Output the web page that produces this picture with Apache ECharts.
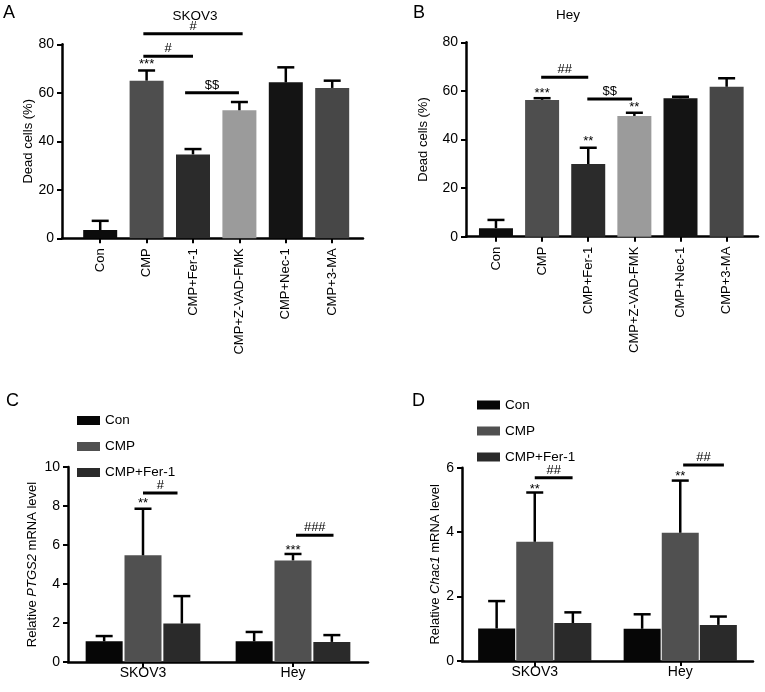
<!DOCTYPE html>
<html><head><meta charset="utf-8">
<script src="https://cdn.jsdelivr.net/npm/echarts/dist/echarts.min.js"></script>
<style>html,body{margin:0;padding:0;background:#fff}#c{width:765px;height:692px}</style>
</head><body><div id="c"></div>
<script>
// ---------- data ----------
const deathCategories = ['Con', 'CMP', 'CMP+Fer-1', 'CMP+Z-VAD-FMK', 'CMP+Nec-1', 'CMP+3-MA'];
const skov3Dead    = [3.4, 65.0, 34.6, 52.8, 64.3, 62.0];
const skov3DeadErr = [3.8, 4.2, 2.2, 3.4, 6.2, 3.0];
const heyDead      = [3.5, 56.3, 29.9, 49.7, 57.0, 61.7];
const heyDeadErr   = [3.4, 0.7, 6.7, 1.3, 0.6, 3.5];
const deadTicks    = [0, 20, 40, 60, 80];

const cellLines  = ['SKOV3', 'Hey'];
const groupNames = ['Con', 'CMP', 'CMP+Fer-1'];
const ptgs2Con = [1.06, 1.06];  const ptgs2ConErr = [0.27, 0.48];
const ptgs2Cmp = [5.47, 5.21];  const ptgs2CmpErr = [2.39, 0.33];
const ptgs2Fer = [1.97, 1.03];  const ptgs2FerErr = [1.41, 0.35];
const ptgs2Ticks = [0, 2, 4, 6, 8, 10];
const chac1Con = [1.01, 1.00];  const chac1ConErr = [0.85, 0.45];
const chac1Cmp = [3.70, 3.98];  const chac1CmpErr = [1.53, 1.62];
const chac1Fer = [1.18, 1.12];  const chac1FerErr = [0.33, 0.26];
const chac1Ticks = [0, 2, 4, 6];

// significance brackets: [from (category units), to, y value, label]
const sigA = [[0.93, 3.07, 84.4, '#'], [0.93, 2.0, 75.1, '#'], [1.83, 2.99, 60.0, '$$']];
const starsA = [[1, 73.0, '***']];
const sigB = [[0.98, 2.0, 65.6, '##'], [1.98, 2.95, 56.7, '$$']];
const starsB = [[1, 60.2, '***'], [2, 40.5, '**'], [3, 54.3, '**']];
const sigC = [[0.0, 0.23, 8.67, '#'], [1.02, 1.27, 6.5, '###']];
const starsC = [[0, 8.3, '**'], [1, 5.86, '***']];
const sigD = [[0.0, 0.26, 5.69, '##'], [1.02, 1.3, 6.08, '##']];
const starsD = [[0, 5.41, '**'], [1, 5.82, '**']];

// ---------- styles ----------
const FONT = '"Liberation Sans", Arial, Helvetica, sans-serif';
const deadColors = ['#0c0c0c', '#4e4e4e', '#2b2b2b', '#9b9b9b', '#141414', '#474747'];
const groupColors = ['#060606', '#505050', '#2a2a2a'];
const LW = 2.5;

function errRender(offsetPx, capW) {
  return function (params, api) {
    const i = api.value(0), m = api.value(1), e = api.value(2);
    const b = api.coord([i, m]);
    const t = api.coord([i, m + e]);
    const x = b[0] + offsetPx;
    return { type: 'group', children: [
      { type: 'line', shape: { x1: x, y1: b[1], x2: x, y2: t[1] }, style: { stroke: '#000', lineWidth: LW } },
      { type: 'line', shape: { x1: x - capW / 2, y1: t[1], x2: x + capW / 2, y2: t[1] }, style: { stroke: '#000', lineWidth: LW } }
    ]};
  };
}
function sigRender(list) {
  return function (params, api) {
    const d = list[params.dataIndex];
    const o = api.coord([0, d[2]]);
    const band = api.size([1, 0])[0];
    const x1 = o[0] + d[0] * band, x2 = o[0] + d[1] * band;
    return { type: 'group', children: [
      { type: 'line', shape: { x1: x1, y1: o[1], x2: x2, y2: o[1] }, style: { stroke: '#000', lineWidth: 3 } },
      { type: 'text', x: (x1 + x2) / 2, y: o[1] - 1, style: { text: d[3], align: 'center', verticalAlign: 'bottom', fontSize: 13, fontFamily: FONT, fill: '#000' } }
    ]};
  };
}
function starRender(list, offsetPx) {
  return function (params, api) {
    const d = list[params.dataIndex];
    const o = api.coord([d[0], d[1]]);
    return { type: 'text', x: o[0] + offsetPx, y: o[1] + 3, style: { text: d[2], align: 'center', verticalAlign: 'middle', fontSize: 13, fontFamily: FONT, fill: '#000' } };
  };
}

function valueAxis(grid, ticks, name, nameGap, show) {
  return {
    type: 'value', gridIndex: grid, min: ticks[0], max: ticks[ticks.length - 1], interval: ticks[1] - ticks[0],
    show: show,
    name: name, nameLocation: 'middle', nameGap: nameGap, nameRotate: 90,
    nameTextStyle: { fontSize: 13, fontFamily: FONT, color: '#000',
      rich: { n: { fontSize: 13, fontFamily: FONT, color: '#000' }, i: { fontSize: 13, fontFamily: FONT, color: '#000', fontStyle: 'italic' } } },
    axisLine: { show: true, lineStyle: { color: '#000', width: LW } },
    axisTick: { show: true, length: 5, lineStyle: { color: '#000', width: 2 } },
    axisLabel: { fontSize: 14, fontFamily: FONT, color: '#000', margin: 8 },
    splitLine: { show: false }
  };
}
function frameX(grid) {
  return { type: 'value', gridIndex: grid, min: 0, max: 1,
    axisLine: { show: true, onZero: false, lineStyle: { color: '#000', width: LW } },
    axisTick: { show: false }, axisLabel: { show: false }, splitLine: { show: false } };
}
function catAxis(grid, cats, rotate, margin, fontSize, showLine) {
  return { type: 'category', gridIndex: grid, data: cats,
    axisLine: { show: showLine, lineStyle: { color: '#000', width: LW } },
    axisTick: { show: true, alignWithLabel: true, length: 5, lineStyle: { color: '#000', width: 2 } },
    axisLabel: { rotate: rotate, margin: margin, fontSize: fontSize, fontFamily: FONT, color: '#000', interval: 0 },
    splitLine: { show: false } };
}

const barWC = 37;
const gapC = 0.05, gapD = 0.03;

function groupedSeries(xi, yi, means, errs, gapFrac) {
  const out = [];
  const step = barWC * (1 + gapFrac);
  means.forEach((m, k) => {
    out.push({ type: 'bar', name: groupNames[k], xAxisIndex: xi, yAxisIndex: yi, data: m,
      barWidth: barWC, barGap: (gapFrac * 100) + '%', itemStyle: { color: groupColors[k] }, z: 2 });
  });
  means.forEach((m, k) => {
    out.push({ type: 'custom', name: 'err' + xi + k, xAxisIndex: xi, yAxisIndex: yi, clip: false, z: 3,
      data: m.map((v, i) => [i, v, errs[k][i]]), renderItem: errRender((k - 1) * step, 17) });
  });
  return out;
}

const chart = echarts.init(document.getElementById('c'), null, { renderer: 'canvas' });
const option = {
  animation: false,
  backgroundColor: '#fff',
  textStyle: { fontFamily: FONT },
  grid: [
    { left: 62, top: 44.3, width: 301, height: 194 },
    { left: 77, top: 44.3, width: 278.4, height: 194 },
    { left: 466, top: 42.3, width: 292, height: 194.4 },
    { left: 472.9, top: 42.3, width: 276.8, height: 194.4 },
    { left: 68, top: 467, width: 300, height: 195 },
    { left: 462, top: 467.7, width: 291, height: 193.3 }
  ],
  xAxis: [
    frameX(0),
    catAxis(1, deathCategories, 90, 10, 13, false),
    frameX(2),
    catAxis(3, deathCategories, 90, 10, 13, false),
    catAxis(4, cellLines, 0, 4, 14, true),
    catAxis(5, cellLines, 0, 4, 14, true)
  ],
  yAxis: [
    valueAxis(0, deadTicks, 'Dead cells (%)', 24, true),
    valueAxis(1, deadTicks, '', 0, false),
    valueAxis(2, deadTicks, 'Dead cells (%)', 36, true),
    valueAxis(3, deadTicks, '', 0, false),
    valueAxis(4, ptgs2Ticks, '{n|Relative }{i|PTGS2}{n| mRNA level}', 29, true),
    valueAxis(5, chac1Ticks, '{n|Relative }{i|Chac1}{n| mRNA level}', 19, true)
  ],
  legend: [
    { orient: 'vertical', left: 77, top: 412.5, padding: 0, itemWidth: 23, itemHeight: 9, itemGap: 10, icon: 'rect',
      data: groupNames, textStyle: { fontSize: 13.5, fontFamily: FONT, color: '#000', lineHeight: 16 }, selectedMode: false },
    { orient: 'vertical', left: 477, top: 397, padding: 0, itemWidth: 23, itemHeight: 9, itemGap: 10, icon: 'rect',
      data: groupNames, textStyle: { fontSize: 13.5, fontFamily: FONT, color: '#000', lineHeight: 16 }, selectedMode: false }
  ],
  graphic: [
    { type: 'text', x: 3, y: 4, style: { text: 'A', fontSize: 18, fontFamily: FONT, fill: '#000' } },
    { type: 'text', x: 413, y: 4, style: { text: 'B', fontSize: 18, fontFamily: FONT, fill: '#000' } },
    { type: 'text', x: 6, y: 392, style: { text: 'C', fontSize: 18, fontFamily: FONT, fill: '#000' } },
    { type: 'text', x: 412, y: 392, style: { text: 'D', fontSize: 18, fontFamily: FONT, fill: '#000' } },
    { type: 'text', x: 195, y: 9, style: { text: 'SKOV3', align: 'center', fontSize: 13.5, fontFamily: FONT, fill: '#000' } },
    { type: 'text', x: 568, y: 8, style: { text: 'Hey', align: 'center', fontSize: 13.5, fontFamily: FONT, fill: '#000' } }
  ],
  series: [
    { type: 'bar', name: 'SKOV3 dead', xAxisIndex: 1, yAxisIndex: 1, barWidth: 34,
      data: skov3Dead.map((v, i) => ({ value: v, itemStyle: { color: deadColors[i] } })), z: 2 },
    { type: 'custom', name: 'SKOV3 err', xAxisIndex: 1, yAxisIndex: 1, clip: false, z: 3,
      data: skov3Dead.map((v, i) => [i, v, skov3DeadErr[i]]), renderItem: errRender(0, 17) },
    { type: 'custom', name: 'SKOV3 sig', xAxisIndex: 1, yAxisIndex: 1, clip: false, z: 3,
      data: sigA.map(d => [d[0], d[2]]), renderItem: sigRender(sigA) },
    { type: 'custom', name: 'SKOV3 stars', xAxisIndex: 1, yAxisIndex: 1, clip: false, z: 3,
      data: starsA.map(d => [d[0], d[1]]), renderItem: starRender(starsA, 0) },

    { type: 'bar', name: 'Hey dead', xAxisIndex: 3, yAxisIndex: 3, barWidth: 34,
      data: heyDead.map((v, i) => ({ value: v, itemStyle: { color: deadColors[i] } })), z: 2 },
    { type: 'custom', name: 'Hey err', xAxisIndex: 3, yAxisIndex: 3, clip: false, z: 3,
      data: heyDead.map((v, i) => [i, v, heyDeadErr[i]]), renderItem: errRender(0, 17) },
    { type: 'custom', name: 'Hey sig', xAxisIndex: 3, yAxisIndex: 3, clip: false, z: 3,
      data: sigB.map(d => [d[0], d[2]]), renderItem: sigRender(sigB) },
    { type: 'custom', name: 'Hey stars', xAxisIndex: 3, yAxisIndex: 3, clip: false, z: 3,
      data: starsB.map(d => [d[0], d[1]]), renderItem: starRender(starsB, 0) },

    ...groupedSeries(4, 4, [ptgs2Con, ptgs2Cmp, ptgs2Fer], [ptgs2ConErr, ptgs2CmpErr, ptgs2FerErr], gapC),
    { type: 'custom', name: 'C sig', xAxisIndex: 4, yAxisIndex: 4, clip: false, z: 3,
      data: sigC.map(d => [d[0], d[2]]), renderItem: sigRender(sigC) },
    { type: 'custom', name: 'C stars', xAxisIndex: 4, yAxisIndex: 4, clip: false, z: 3,
      data: starsC.map(d => [d[0], d[1]]), renderItem: starRender(starsC, 0) },

    ...groupedSeries(5, 5, [chac1Con, chac1Cmp, chac1Fer], [chac1ConErr, chac1CmpErr, chac1FerErr], gapD),
    { type: 'custom', name: 'D sig', xAxisIndex: 5, yAxisIndex: 5, clip: false, z: 3,
      data: sigD.map(d => [d[0], d[2]]), renderItem: sigRender(sigD) },
    { type: 'custom', name: 'D stars', xAxisIndex: 5, yAxisIndex: 5, clip: false, z: 3,
      data: starsD.map(d => [d[0], d[1]]), renderItem: starRender(starsD, 0) }
  ]
};
chart.setOption(option);
</script>
</body></html>
